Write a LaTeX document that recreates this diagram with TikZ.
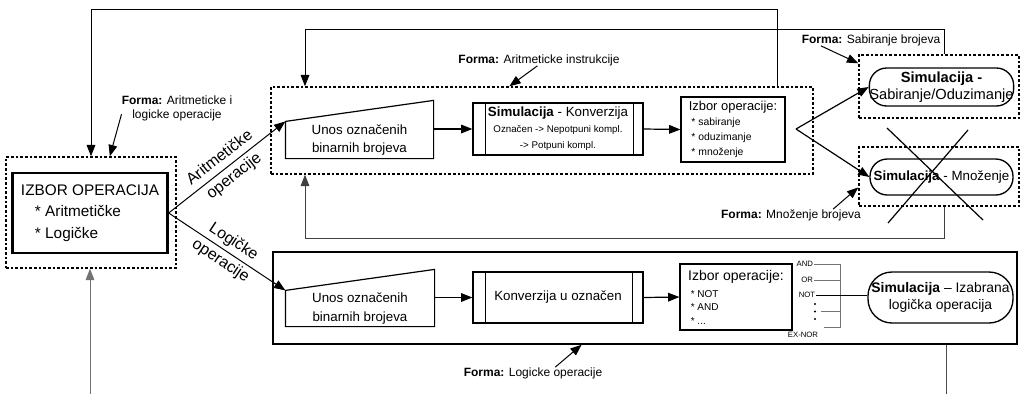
\documentclass[tikz,border=0pt]{standalone}
\usepackage{fontspec}
\setmainfont{Liberation Sans}
\usetikzlibrary{arrows.meta,calc}

\begin{document}
\begin{tikzpicture}[
  x=0.75pt, y=-0.75pt,
  frame/.style={draw, line width=1.1pt, dash pattern=on 2pt off 1.5pt, inner sep=0pt},
  box/.style={draw, line width=0.9pt, inner sep=0pt, align=center},
  term/.style={draw, line width=1pt, inner sep=0pt, align=center},
  forma/.style={inner sep=0pt, align=center, font=\fontsize{9}{10.5}\selectfont},
  granlbl/.style={sloped, align=center, inner sep=0pt, font=\fontsize{12}{17.5}\selectfont},
  opl/.style={inner sep=0.5pt, font=\fontsize{5.8}{6}\selectfont},
  brk/.style={draw=black!55, line width=0.7pt},
  conn/.style={->, line width=0.9pt},
  >={Triangle[length=8.5pt,width=6.5pt]}
]
\useasboundingbox (0,0) rectangle (1021,394);

% okviri
\node[frame, minimum width=127.5pt, minimum height=83.25pt] (izborFrame) at (91,212.5) {};
\node[frame, minimum width=406.5pt, minimum height=65.25pt] (arithFrame) at (542,130.5) {};
\node[frame, minimum width=120pt, minimum height=47.25pt] (sabFrame) at (939,86.5) {};
\node[frame, minimum width=120pt, minimum height=44.25pt] (mnoFrame) at (939,176.5) {};
\node[draw, line width=1pt, minimum width=558pt, minimum height=69pt] (logicFrame) at (645,298) {};

% izbor operacija
\node[draw, line width=2pt, inner sep=0pt, minimum width=116pt, minimum height=60pt, align=left, font=\fontsize{11.5}{16}\selectfont] (izbor) at (90,213) {IZBOR OPERACIJA\\\hspace*{10.5pt}* Aritmetičke\\\hspace*{10.5pt}* Logičke};

% aritmeticke operacije
\node[box, draw=none, minimum width=110.25pt, minimum height=27pt, font=\fontsize{10}{13.5}\selectfont] (ain) at (359.5,140) {Unos označenih\\binarnih brojeva};
\draw[line width=0.9pt] (ain.south west) -- (ain.north west) -- ([yshift=15.75pt]ain.north east) -- (ain.south east) -- cycle;
\node[box, minimum width=127.5pt, minimum height=39pt, font=\fontsize{7.3}{12}\selectfont] (kon) at (558,129) {{\fontsize{10}{12}\selectfont\textbf{Simulacija} - Konverzija}\\Označen -> Nepotpuni kompl.\\-> Potpuni kompl.};
\draw ([xshift=9.75pt]kon.north west) -- ([xshift=9.75pt]kon.south west);
\draw ([xshift=-7.5pt]kon.north east) -- ([xshift=-7.5pt]kon.south east);
\node[box, minimum width=78pt, minimum height=48.75pt, align=left, font=\fontsize{7.8}{11.25}\selectfont] (izborA) at (733,129.5) {{\fontsize{9.7}{11.25}\selectfont Izbor operacije:}\\\hspace*{2pt}* sabiranje\\\hspace*{2pt}* oduzimanje\\\hspace*{2pt}* množenje};
\node[term, rounded corners=13pt, minimum width=107.25pt, minimum height=28.5pt, font=\fontsize{11}{12.75}\selectfont] (sab) at (941.5,87) {\textbf{Simulacija -}\\Sabiranje/Oduzimanje};
\node[term, rounded corners=13pt, minimum width=107.25pt, minimum height=27pt, font=\fontsize{10}{12}\selectfont] (mno) at (941.5,177) {\textbf{Simulacija} - Množenje};
\draw[line width=0.9pt] (887,128) -- (983,220);
\draw[line width=0.9pt] (968,130) -- (888,223);

% logicke operacije
\node[box, draw=none, minimum width=111pt, minimum height=26.25pt, font=\fontsize{10}{14}\selectfont] (lin) at (360,308.5) {Unos označenih\\binarnih brojeva};
\draw[line width=0.9pt] (lin.south west) -- (lin.north west) -- ([yshift=15.75pt]lin.north east) -- (lin.south east) -- cycle;
\node[box, minimum width=127.5pt, minimum height=38.25pt, font=\fontsize{10}{12}\selectfont] (konL) at (558,297.5) {Konverzija u označen};
\draw ([xshift=9.75pt]konL.north west) -- ([xshift=9.75pt]konL.south west);
\draw ([xshift=-8.25pt]konL.north east) -- ([xshift=-8.25pt]konL.south east);
\node[box, minimum width=84pt, minimum height=49.5pt, align=left, font=\fontsize{7.5}{10}\selectfont] (izborL) at (736,297) {{\fontsize{10.5}{12}\selectfont Izbor operacije:}\\[3pt]\hspace*{2pt}* NOT\\\hspace*{2pt}* AND\\\hspace*{2pt}* ...};
\node[term, rounded corners=18pt, minimum width=108.75pt, minimum height=38.25pt, font=\fontsize{10.4}{12.5}\selectfont] (simL) at (940.5,297.5) {\textbf{Simulacija} – Izabrana\\logička operacija};

% izbor logicke operacije
\node[opl, anchor=east] (opAnd) at (814,264) {AND};
\node[opl, anchor=east] (opOr) at (814,280) {OR};
\node[opl, anchor=east] (opNot) at (816,295) {NOT};
\node[opl] (opExnor) at (803,335) {EX-NOR};
\coordinate (brT) at (840,264);
\coordinate (brB) at (840,327);
\draw[brk] (opAnd.east) -- (brT) -- (brB) -- ++(-16,0);
\draw[brk] (opOr.east) -- (opOr.east -| brT);
\draw[brk] (821,311) -- (840,311);
\foreach \y in {304,311.5,319}
  \fill (815,\y) circle (0.9pt);
\draw[line width=0.6pt] (opNot.east) -- (opNot.east -| simL.west);

% veze
\draw[->, line width=0.75pt] (izbor.east) -- node[granlbl, pos=0.5] (lblAri) {Aritmetičke\\operacije} (ain.north west);
\draw[->, line width=0.75pt] (izbor.east) -- node[granlbl, pos=0.5] (lblLog) {Logičke\\operacije} (lin.north west);
\draw[conn] (kon.west -| ain.east) -- (kon.west);
\draw[conn] (kon.east) -- (izborA.west);
\coordinate (split) at (796,129);
\draw[conn] (split) -- (sab.west);
\draw[conn] (split) -- (mno.west);
\draw[conn] (konL.west -| lin.east) -- (konL.west);
\draw[conn] (konL.east) -- (izborL.west);

% povratne veze
\coordinate (fb1) at (777,9);
\coordinate (fb2R) at (944,29);
\coordinate (fb2L) at (305,29);
\coordinate (fb3R) at (944,238);
\coordinate (fb3L) at (305,238);
\draw[->, line width=0.75pt] (arithFrame.north -| fb1) -- (fb1) -| (izborFrame.north);
\draw[->, line width=0.75pt] (sabFrame.north -| fb2R) -- (fb2R) -- (fb2L) -- (arithFrame.north -| fb2L);
\draw[->, line width=0.75pt, black!75] (mnoFrame.south -| fb3R) -- (fb3R) -- (fb3L) -- (arithFrame.south -| fb3L);
\coordinate (inL) at (90,394);
\draw[->, line width=0.75pt, black!55] (inL) -- (izborFrame.south -| inL);
\coordinate (outR) at (946,394);
\draw[line width=0.75pt, black!70] (logicFrame.south -| outR) -- (outR);

% forme
\node[forma] (fIzb) at (177,108) {\textbf{Forma:} Aritmeticke i\\logicke operacije};
\draw[->, line width=0.75pt] ([yshift=5pt]fIzb.south west) -- ($(izborFrame.north west)!0.61!(izborFrame.north east)$);
\node[forma] (fAri) at (539,60) {\textbf{Forma:} Aritmeticke instrukcije};
\draw[->, line width=0.75pt] ($(fAri.south west)!0.49!(fAri.south east)$) -- ($(arithFrame.north west)!0.44!(arithFrame.north east)$);
\node[forma] (fSab) at (871,40) {\textbf{Forma:} Sabiranje brojeva};
\draw[->, line width=0.75pt] ($(fSab.south west)!0.14!(fSab.south east)$) -- ($(sabFrame.north west)!0.14!(sabFrame.south west)$);
\node[forma] (fMno) at (791,215) {\textbf{Forma:} Množenje brojeva};
\draw[->, line width=0.75pt] ($(fMno.north west)!0.8!(fMno.north east)$) -- ($(mnoFrame.north west)!0.68!(mnoFrame.south west)$);
\node[forma] (fLog) at (533,373) {\textbf{Forma:} Logicke operacije};
\draw[->, line width=0.75pt] ($(fLog.north west)!0.66!(fLog.north east)$) -- ($(logicFrame.south west)!0.415!(logicFrame.south east)$);
\end{tikzpicture}
\end{document}
